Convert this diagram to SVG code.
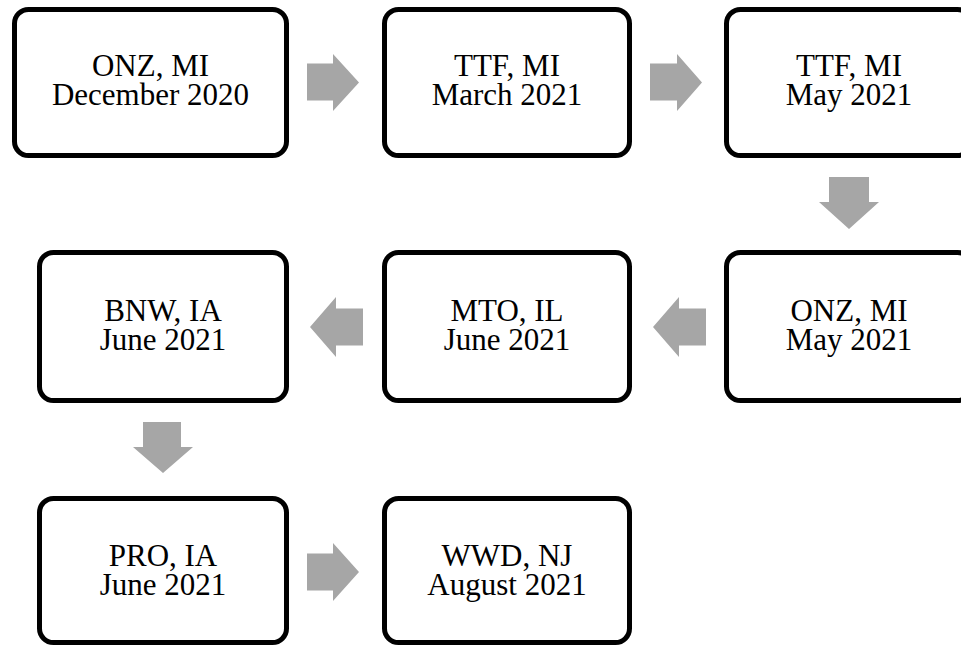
<svg xmlns="http://www.w3.org/2000/svg" width="961" height="646" viewBox="0 0 961 646">
<style>
.box{fill:#fff;stroke:#000;stroke-width:5}
.t{font-family:"Liberation Serif","Times New Roman",serif;font-size:31px;fill:#000;text-anchor:middle}
.arr{fill:#A6A6A6}
</style>
<rect width="961" height="646" fill="#fff"/>
<g id="connectors">
<polygon class="arr" points="307,63.5 333,63.5 333,54 359,82.5 333,111 333,100.5 307,100.5"/>
<polygon class="arr" points="650,63.5 677,63.5 677,54 702,82.5 677,111 677,100.5 650,100.5"/>
<polygon class="arr" points="829,177 869,177 869,202 879,202 849,229 819,202 829,202"/>
<polygon class="arr" points="706,308.5 679,308.5 679,297 653,327 679,357 679,345.5 706,345.5"/>
<polygon class="arr" points="363,308.5 336,308.5 336,297 310,327 336,357 336,345.5 363,345.5"/>
<polygon class="arr" points="143,422 181,422 181,447 193,447 163,473 133,447 143,447"/>
<polygon class="arr" points="307,553.5 333,553.5 333,543 359,572 333,601 333,590.5 307,590.5"/>
</g>
<g id="n1"><rect class="box" x="14.5" y="9.5" width="272" height="146" rx="14"/><text class="t"><tspan x="150.5" y="76">ONZ, MI</tspan><tspan x="150.5" y="105">December 2020</tspan></text></g>
<g id="n2"><rect class="box" x="384.5" y="9.5" width="245" height="146" rx="14"/><text class="t"><tspan x="507" y="76">TTF, MI</tspan><tspan x="507" y="105">March 2021</tspan></text></g>
<g id="n3"><rect class="box" x="726.5" y="9.5" width="245" height="146" rx="14"/><text class="t"><tspan x="849" y="76">TTF, MI</tspan><tspan x="849" y="105">May 2021</tspan></text></g>
<g id="n4"><rect class="box" x="726.5" y="252.5" width="245" height="148" rx="14"/><text class="t"><tspan x="849" y="321">ONZ, MI</tspan><tspan x="849" y="350">May 2021</tspan></text></g>
<g id="n5"><rect class="box" x="384.5" y="252.5" width="245" height="148" rx="14"/><text class="t"><tspan x="507" y="321">MTO, IL</tspan><tspan x="507" y="350">June 2021</tspan></text></g>
<g id="n6"><rect class="box" x="39.5" y="252.5" width="247" height="148" rx="14"/><text class="t"><tspan x="163" y="321">BNW, IA</tspan><tspan x="163" y="350">June 2021</tspan></text></g>
<g id="n7"><rect class="box" x="39.5" y="498.5" width="247" height="144" rx="14"/><text class="t"><tspan x="163" y="566">PRO, IA</tspan><tspan x="163" y="595">June 2021</tspan></text></g>
<g id="n8"><rect class="box" x="384.5" y="498.5" width="245" height="144" rx="14"/><text class="t"><tspan x="507" y="566">WWD, NJ</tspan><tspan x="507" y="595">August 2021</tspan></text></g>
</svg>
